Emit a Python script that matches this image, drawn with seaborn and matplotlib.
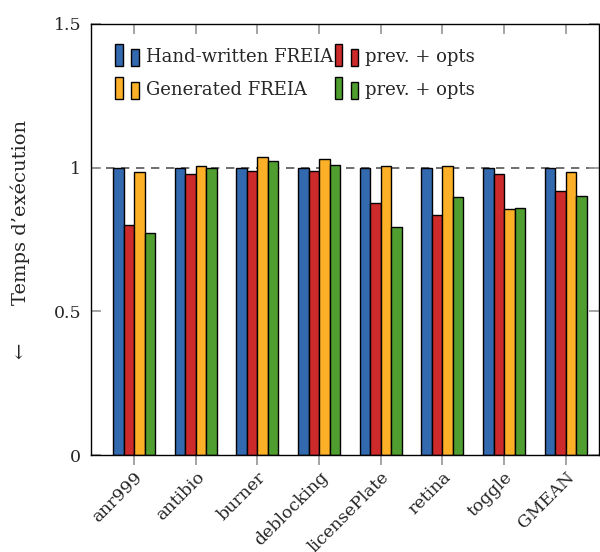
import matplotlib
matplotlib.use("Agg")
import matplotlib.pyplot as plt
import seaborn as sns
import pandas as pd
from matplotlib.patches import Rectangle
from matplotlib.legend_handler import HandlerBase

benchmarks = ["anr999", "antibio", "burner", "deblocking", "licensePlate", "retina", "toggle", "GMEAN"]
series_names = ["Hand-written FREIA", "prev. + opts ", "Generated FREIA", "prev. + opts"]
hand_written = [1.0, 1.0, 1.0, 1.0, 1.0, 1.0, 1.0, 1.0]
hand_opts = [0.802, 0.978, 0.988, 0.987, 0.878, 0.836, 0.979, 0.918]
generated = [0.984, 1.006, 1.037, 1.030, 1.006, 1.006, 0.855, 0.986]
gen_opts = [0.774, 1.0, 1.024, 1.009, 0.793, 0.898, 0.860, 0.903]
colors = ["#3369ae", "#cd2a2b", "#fcb028", "#4f9e2f"]
yticks = [0, 0.5, 1, 1.5]
ytick_labels = ["0", "0.5", "1", "1.5"]

rows = []
for name, vals in zip(series_names, [hand_written, hand_opts, generated, gen_opts]):
    for b, v in zip(benchmarks, vals):
        rows.append({"bench": b, "series": name, "value": v})
df = pd.DataFrame(rows)

sns.set_theme(style="ticks")
plt.rcParams["font.family"] = ["DejaVu Serif"]

fig = plt.figure(figsize=(6.0, 5.52), dpi=100)
ax = fig.add_axes([91/600, 97/552, 508/600, 431/552])

ax.axhline(1.0, color="#555555", lw=1.2, ls=(0, (5, 4)), zorder=0.5)
sns.barplot(data=df, x="bench", y="value", hue="series", hue_order=series_names,
            order=benchmarks, palette=colors, saturation=1, width=0.68, gap=0, ax=ax,
            edgecolor="black", linewidth=1.0, zorder=2, legend=False)

ax.set_xlim(-0.70, 7.54)
ax.set_ylim(0, 1.5)
ax.set_yticks(yticks)
ax.set_yticklabels(ytick_labels, fontsize=12.5)
ax.set_xlabel("")
ax.set_ylabel("←      Temps d’exécution", fontsize=14, labelpad=17)
ax.set_xticks(range(len(benchmarks)))
ax.set_xticklabels(benchmarks, rotation=45, ha="right", va="top",
                   rotation_mode="anchor", fontsize=12.5)
ax.tick_params(axis="x", direction="out", length=7, color="#999999", pad=3)
ax.tick_params(axis="y", direction="in", length=7, color="#999999", left=True, right=True, pad=7)
for sp in ax.spines.values():
    sp.set_color("black")
    sp.set_linewidth(1.0)

sec = ax.secondary_xaxis("top")
sec.set_xticks(range(len(benchmarks)))
sec.set_xticklabels([])
sec.tick_params(direction="in", length=7, color="#999999")
sec.spines["top"].set_visible(False)


class TwoBars(HandlerBase):
    def __init__(self, color):
        super().__init__()
        self.color = color

    def create_artists(self, legend, orig_handle, xdescent, ydescent, width, height, fontsize, trans):
        r1 = Rectangle((0, -3), 5.5, 16, facecolor=self.color, edgecolor="black", lw=1.0, transform=trans)
        r2 = Rectangle((11.5, -3), 5.5, 12, facecolor=self.color, edgecolor="black", lw=1.0, transform=trans)
        return [r1, r2]


order = [0, 2, 1, 3]
handles = [Rectangle((0, 0), 1, 1) for _ in series_names]
handler_map = {h: TwoBars(c) for h, c in zip(handles, colors)}
leg = ax.legend([handles[i] for i in order], [series_names[i].strip() for i in order],
                handler_map=handler_map,
                ncol=2, loc="upper left", bbox_to_anchor=(0.033, 0.962), frameon=False,
                fontsize=13, handlelength=1.35, handletextpad=0.35, columnspacing=0.1,
                labelspacing=0.85, borderaxespad=0)
fig.savefig("out.png", dpi=100)
